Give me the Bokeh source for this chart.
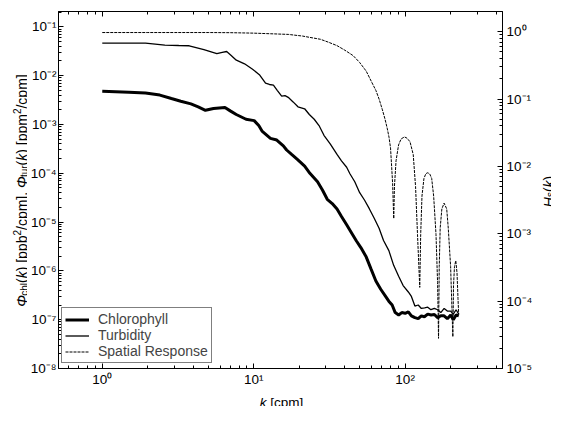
import math
from bokeh.plotting import figure
from bokeh.layouts import row, column
from bokeh.models import (Range1d, LogAxis, LogScale, FixedTicker, CustomJSTickFormatter,
                          Legend, LegendItem, Label)
from bokeh.embed import file_html
from bokeh.resources import INLINE

# ---------------- data ----------------
k_chl = [1, 1.5, 1.93, 2.4, 2.86, 3.3, 3.85, 4.3, 4.8, 5.43, 6.46, 7.0, 7.67, 8.9, 10.07,
         10.8, 11.4, 12.9, 14.2, 15.7, 16.5, 17.8, 19.5, 21.7, 23.5, 26.4, 28.5, 30.6, 33,
         35.5, 38, 41.1, 44, 47.7, 51, 55.3, 59.5, 64.1, 69, 74.3, 78, 82.1, 86, 90.6, 95,
         100, 105, 110, 116, 122, 128, 134, 141, 148.5, 156, 164, 172, 180.8, 190, 200,
         208, 217, 226]
phi_chl = [4.8e-3, 4.6e-3, 4.4e-3, 4.0e-3, 3.4e-3, 3.0e-3, 2.64e-3, 2.3e-3, 1.95e-3, 2.13e-3,
           2.23e-3, 1.9e-3, 1.6e-3, 1.28e-3, 1.2e-3, 9.5e-4, 7.2e-4, 5.2e-4, 4.8e-4, 3.65e-4,
           3.0e-4, 2.43e-4, 1.9e-4, 1.4e-4, 1.0e-4, 6.7e-5, 4.5e-5, 2.93e-5, 2.4e-5, 1.86e-5,
           1.3e-5, 8.8e-6, 6.2e-6, 4.1e-6, 3.0e-6, 1.94e-6, 1.1e-6, 6.2e-7, 4.2e-7, 3.0e-7,
           2.4e-7, 2.0e-7, 1.4e-7, 1.25e-7, 1.4e-7, 1.35e-7, 1.45e-7, 1.2e-7, 1.1e-7, 1.05e-7,
           1.2e-7, 1.15e-7, 1.3e-7, 1.25e-7, 1.28e-7, 1.1e-7, 1.2e-7, 1.2e-7, 1.05e-7, 1.25e-7,
           1.0e-7, 1.25e-7, 1.2e-7]

k_tur = [1, 1.5, 1.93, 2.59, 3.2, 3.75, 4.69, 5.71, 6.2, 6.63, 7.1, 7.68, 8.7, 9.83, 10.9,
         11.97, 12.7, 13.5, 14.3, 15.3, 16.1, 16.9, 18.2, 19.6, 20.6, 21.7, 23.3, 25.1, 27,
         29.1, 32, 35.5, 38, 41.1, 43.2, 46.5, 50.1, 54, 58.1, 62.5, 67.3, 72, 78.1, 84, 90.6,
         97, 105, 110, 116, 122, 128, 134.5, 141, 148, 156, 163.8, 172, 181, 190, 199.5, 208,
         217, 226]
phi_tur = [0.0463, 0.0465, 0.0463, 0.0423, 0.0415, 0.041, 0.0342, 0.0282, 0.030, 0.0313, 0.026,
           0.0208, 0.0175, 0.0135, 0.0105, 0.0070, 0.0066, 0.0064, 0.0050, 0.0038, 0.0039,
           0.0036, 0.0029, 0.0023, 0.0022, 0.0021, 0.0016, 1.28e-3, 9.5e-4, 6.0e-4, 4.0e-4,
           2.43e-4, 1.8e-4, 1.33e-4, 9.8e-5, 6.7e-5, 4.0e-5, 2.8e-5, 1.86e-5, 1.2e-5, 7.5e-6,
           4.2e-6, 2.6e-6, 1.3e-6, 7.8e-7, 5.0e-7, 3.7e-7, 3.0e-7, 1.9e-7, 2.0e-7, 1.7e-7,
           1.74e-7, 1.8e-7, 1.6e-7, 1.7e-7, 1.6e-7, 1.4e-7, 1.7e-7, 1.5e-7, 1.5e-7, 1.3e-7,
           1.6e-7, 1.3e-7]

k_sr = [1, 2, 3, 5, 7, 10, 13, 16.9, 21, 27.6, 31, 35.5, 40, 45.4, 50, 55.3, 60, 64.1, 67.5,
        70.8, 73.7, 76.3, 78.3, 80.1, 81.5, 82.7, 84.1,
        85.0, 87.1, 90.5, 94, 99.0, 103, 107.7, 113.1, 117.2, 120.7, 124.9,
        126.7, 129.2, 133.1, 137, 141.2, 145.5, 149.8, 154.3, 159.9, 163.8, 166.2,
        168.0, 170.4, 174.8, 180.8, 188.2, 192.7, 199.7, 206.6,
        208.7, 211.8, 216.0, 220.1, 223.4, 225.8]
H_sr = [0.97, 0.97, 0.97, 0.97, 0.965, 0.95, 0.93, 0.91, 0.86, 0.77, 0.70, 0.62, 0.53, 0.44,
        0.35, 0.26, 0.18, 0.134, 0.098, 0.069, 0.050, 0.036, 0.027, 0.0187, 0.0098, 0.0055,
        0.00168,
        0.0050, 0.0121, 0.0208, 0.0255, 0.0274, 0.0262, 0.0232, 0.0150, 0.0050, 0.00098, 0.00016,
        0.00098, 0.00363, 0.0066, 0.0078, 0.00805, 0.0077, 0.0066, 0.00363, 0.00098, 0.00019,
        0.000028,
        0.000327, 0.00121, 0.00234, 0.00285, 0.00234, 0.00121, 0.000327, 0.0000295,
        0.00017, 0.000327, 0.000398, 0.000263, 0.00011, 0.000063]

x_major = [1, 10, 100]
left_major = [1e-8, 1e-7, 1e-6, 1e-5, 1e-4, 1e-3, 1e-2, 1e-1]
right_major = [1e-5, 1e-4, 1e-3, 1e-2, 1e-1, 1]
legend_labels = ["Chlorophyll", "Turbidity", "Spatial Response"]

# ---------------- layout ----------------
TOTAL_W = 551
LW, RW = 27, 16             # side strips holding the rotated axis titles
MW = TOTAL_W - LW - RW      # main figure width (508)
MH, BH = 389, 17            # main figure height, bottom strip height
FL, FR, FT, FB = 27, 480, 11, 370   # frame edges inside the main figure
FONT = "Liberation Sans"
TICK_SIZE = "13.5px"


def minors(lo_exp, hi_exp):
    return [m * 10.0 ** e for e in range(lo_exp, hi_exp + 1) for m in range(2, 10)]


p = figure(width=MW, height=MH, x_axis_type="log", y_axis_type="log",
           x_range=Range1d(10 ** -0.289, 10 ** 2.643),
           y_range=Range1d(1e-8, 10 ** -0.685),
           output_backend="svg", toolbar_location=None,
           min_border_left=FL, min_border_right=MW - FR,
           min_border_top=FT, min_border_bottom=MH - FB)
p.grid.visible = False
p.outline_line_color = "black"
p.outline_line_width = 1
p.background_fill_color = "white"
p.border_fill_color = "white"

p.extra_y_ranges = {"H": Range1d(1e-5, 10 ** 0.299)}
p.extra_y_scales = {"H": LogScale()}

fmt_code = """
const sup = {"-":"\\u207b","0":"\\u2070","1":"\\u00b9","2":"\\u00b2","3":"\\u00b3",
             "4":"\\u2074","5":"\\u2075","6":"\\u2076","7":"\\u2077","8":"\\u2078","9":"\\u2079"};
const e = Math.round(Math.log10(tick));
return "10" + String(e).split("").map(c => sup[c]).join("");
"""


def style_axis(ax, standoff):
    ax.formatter = CustomJSTickFormatter(code=fmt_code)
    ax.major_tick_in = 5
    ax.major_tick_out = 0
    ax.minor_tick_in = 3
    ax.minor_tick_out = 0
    ax.axis_line_color = "black"
    ax.major_tick_line_color = "black"
    ax.minor_tick_line_color = "black"
    ax.major_label_text_font = FONT
    ax.major_label_text_font_size = TICK_SIZE
    ax.major_label_text_color = "black"
    ax.major_label_standoff = standoff


xt = FixedTicker(ticks=x_major, minor_ticks=[0.6, 0.7, 0.8, 0.9] + minors(0, 1) + [200, 300, 400])
lt = FixedTicker(ticks=left_major, minor_ticks=minors(-8, -1))
rt = FixedTicker(ticks=right_major, minor_ticks=minors(-5, 0))

bx = p.xaxis[0]
bx.ticker = xt
style_axis(bx, 3)
ly = p.yaxis[0]
ly.ticker = lt
style_axis(ly, 2)

top = LogAxis(ticker=FixedTicker(ticks=x_major, minor_ticks=xt.minor_ticks))
style_axis(top, 0)
top.formatter = CustomJSTickFormatter(code="return '';")
top.major_label_text_font_size = "1px"
p.add_layout(top, "above")

ry = LogAxis(y_range_name="H", ticker=rt)
style_axis(ry, 4)
p.add_layout(ry, "right")

# ---------------- data lines ----------------
r_chl = p.line(k_chl, phi_chl, line_color="black", line_width=3)
r_tur = p.line(k_tur, phi_tur, line_color="black", line_width=1.3)
r_sr = p.line(k_sr, H_sr, y_range_name="H", line_color="black", line_width=1, line_dash="3 1")

legend = Legend(items=[LegendItem(label=legend_labels[0], renderers=[r_chl]),
                       LegendItem(label=legend_labels[1], renderers=[r_tur]),
                       LegendItem(label=legend_labels[2], renderers=[r_sr])],
                location=(3, 5), border_line_color="black", border_line_width=1,
                background_fill_color="white", background_fill_alpha=1.0,
                label_text_font=FONT, label_text_font_size="14px",
                glyph_width=24, glyph_height=15, label_height=15, label_standoff=9,
                padding=3, spacing=0, margin=0)
p.add_layout(legend)

# ---------------- axis titles built from text pieces ----------------
AW = {' ': 278, '(': 333, ')': 333, '[': 278, ']': 278, '/': 278, ',': 278, 'b': 556, 'c': 500,
      'h': 556, 'k': 500, 'l': 222, 'm': 833, 'p': 556, 'r': 333, 's': 500, 't': 278, 'u': 556,
      'H': 722, 'Φ': 778, '2': 556}


def tw(s, size):
    return sum(AW.get(c, 556) for c in s) * size / 1000.0


def strip(w, h):
    f = figure(width=w, height=h, x_range=Range1d(0, 1), y_range=Range1d(0, 1), title=None,
               output_backend="svg", toolbar_location=None, min_border=0,
               x_axis_location=None, y_axis_location=None)
    f.grid.visible = False
    f.outline_line_color = None
    f.background_fill_color = "white"
    f.border_fill_color = "white"
    return f


def split_lead(t, s):
    lead = len(t) - len(t.lstrip(" "))
    return t.lstrip(" "), tw(" " * lead, s)


def vertical_title(fig, parts, base_x, center_y):
    total = sum(tw(t, s) for t, s, o, st in parts)
    y = center_y + total / 2
    for t, s, o, st in parts:
        txt, adv = split_lead(t, s)
        fig.add_layout(Label(x=base_x + o, y=y - adv, text=txt, angle=math.pi / 2,
                             x_units="canvas", y_units="canvas", text_align="left",
                             text_baseline="alphabetic", text_font=FONT,
                             text_font_size=f"{s}px", text_font_style=st, text_color="black"))
        y -= tw(t, s)


def horizontal_title(fig, parts, center_x, base_y):
    total = sum(tw(t, s) for t, s, o, st in parts)
    x = center_x - total / 2
    for t, s, o, st in parts:
        txt, adv = split_lead(t, s)
        fig.add_layout(Label(x=x + adv, y=base_y + o, text=txt, x_units="canvas",
                             y_units="canvas", text_align="left", text_baseline="alphabetic",
                             text_font=FONT, text_font_size=f"{s}px", text_font_style=st,
                             text_color="black"))
        x += tw(t, s)


left_parts = [("Φ", 14, 0, "italic"), ("chl", 10, 3, "normal"), ("(", 14, 0, "normal"),
              ("k", 14, 0, "italic"), (") [ppb", 14, 0, "normal"), ("2", 10, -5, "normal"),
              ("/cpm], ", 14, 0, "normal"), ("Φ", 14, 0, "italic"), ("tur", 10, 3, "normal"),
              ("(", 14, 0, "normal"), ("k", 14, 0, "italic"), (") [ppm", 14, 0, "normal"),
              ("2", 10, -5, "normal"), ("/cpm]", 14, 0, "normal")]
right_parts = [("H", 14, 0, "italic"), ("s", 10, 1.5, "normal"), ("(", 14, 0, "normal"),
               ("k", 14, 0, "italic"), (")", 14, 0, "normal")]
x_parts = [("k", 13.5, 0, "italic"), (" [cpm]", 13.5, 0, "normal")]

left_fig = strip(LW, MH)
right_fig = strip(RW, MH)
bottom_fig = strip(TOTAL_W, BH)

vertical_title(left_fig, left_parts, 21, 190)
vertical_title(right_fig, right_parts, 13, 191)
horizontal_title(bottom_fig, x_parts, 281, 12.8)

layout = column(row(left_fig, p, right_fig, spacing=0), bottom_fig, spacing=0)

open("out.html", "w").write(file_html(layout, INLINE))
